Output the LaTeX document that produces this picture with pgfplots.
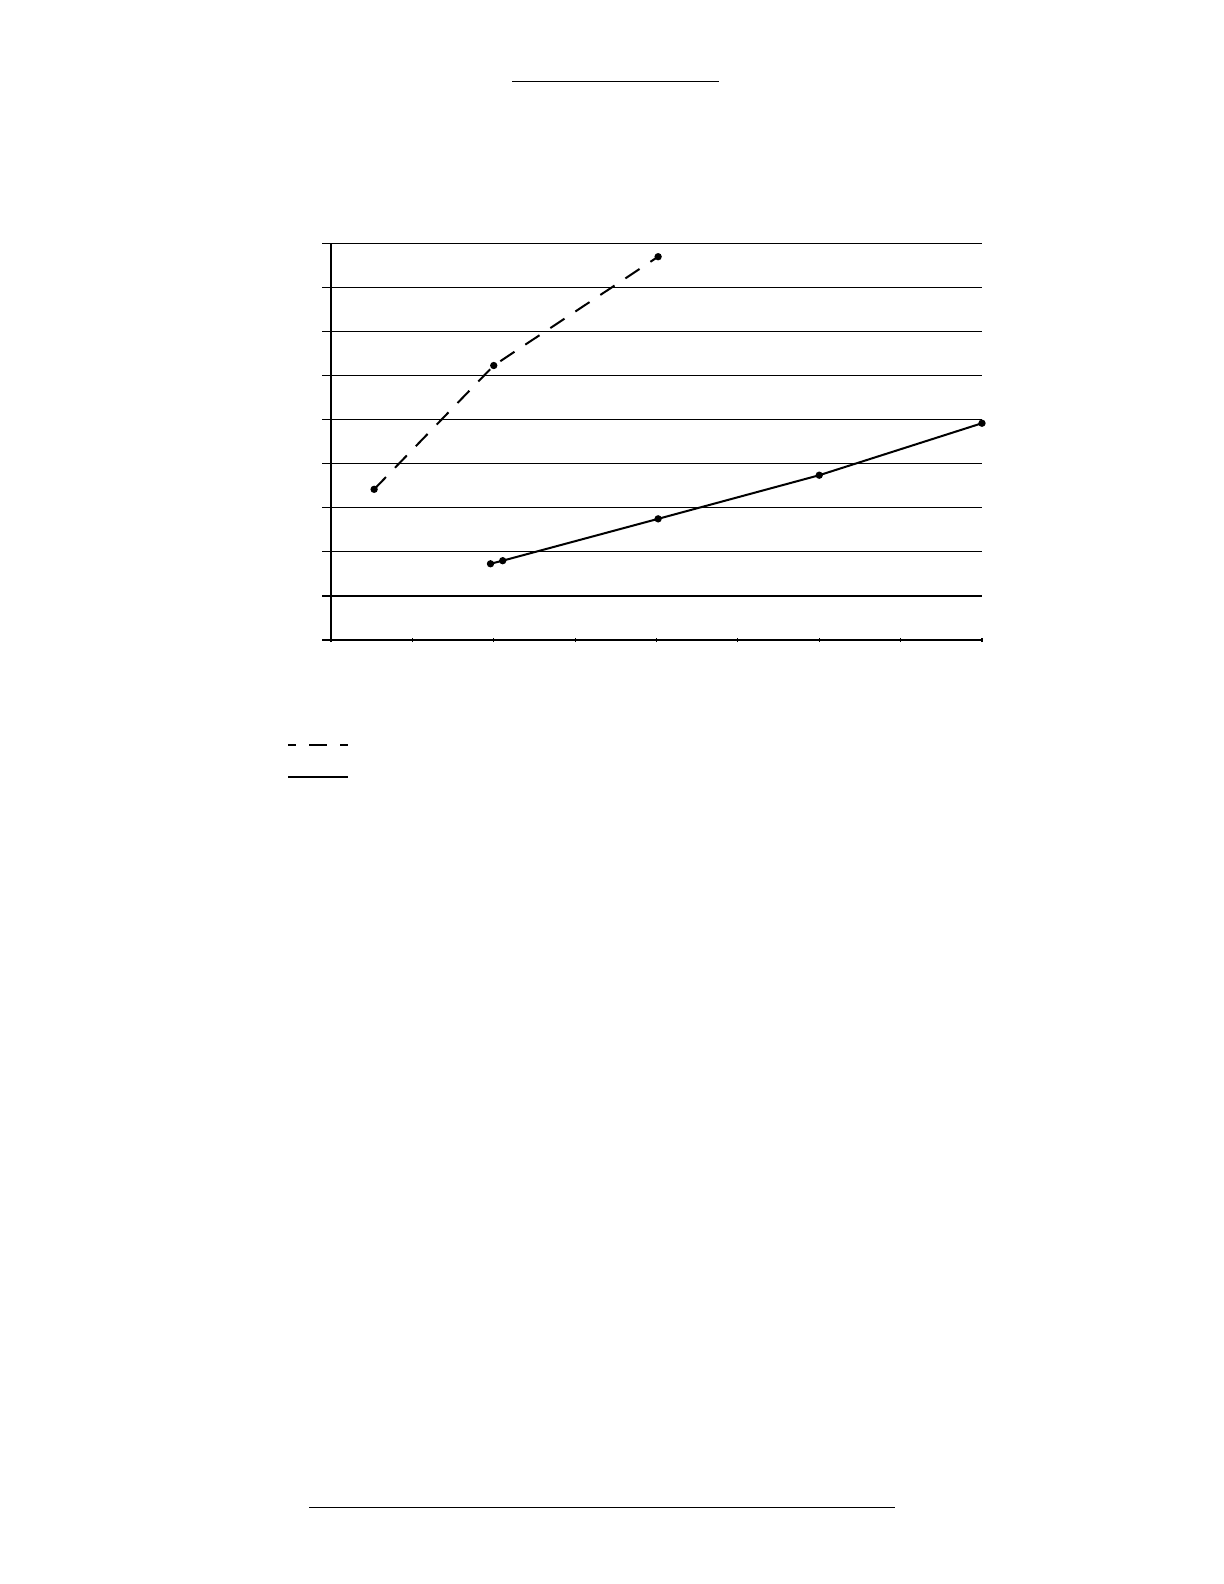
\documentclass[border=0pt]{standalone}
\usepackage{pgfplots}
\pgfplotsset{compat=1.18}

\begin{document}
\begin{tikzpicture}
% page frame, 612 x 792 bp (letter)
\fill[white] (0,0) rectangle (612bp,792bp);
\path[use as bounding box] (0,0) rectangle (612bp,792bp);

% rule under the (empty) title and rule at the foot of the page
\draw[line width=0.7bp] (256bp,751.3bp) -- (359.5bp,751.3bp);
\draw[line width=0.7bp] (154.5bp,38.3bp) -- (447.5bp,38.3bp);

\begin{axis}[
    at={(165.5bp,472bp)}, anchor=south west,
    scale only axis,
    width=325.5bp, height=198.25bp,
    xmin=0, xmax=8, ymin=0, ymax=9,
    xtick={0,1,...,8}, ytick={0,1,...,9},
    xticklabels={}, yticklabels={},
    axis lines*=left,
    axis line style={-, line width=1.1bp},
    tick align=center,
    major tick length=4.3bp,
    tick style={black, line width=0.6bp},
    xtick style={/pgfplots/major tick length=2.2bp},
    ytick style={xshift=-2.15bp},
    ymajorgrids,
    grid style={black, line width=0.6bp},
    clip=false,
]
\addplot[black, line width=1bp, dash pattern=on 8.5bp off 6.5bp,
    mark=*, mark size=1.3bp, mark options={solid}] coordinates {
    (0.53,3.42) (2.00,6.23) (4.02,8.70)
};
\addplot[black, line width=1bp, mark=*, mark size=1.3bp] coordinates {
    (1.96,1.73) (2.11,1.80) (4.02,2.75) (6.00,3.74) (8.00,4.92)
};
\end{axis}

% legend samples (the legend has no text)
\draw[line width=1bp, dash pattern=on 9bp off 6.5bp, dash phase=5bp]
    (144bp,419.6bp) -- (174bp,419.6bp);
\draw[line width=1bp] (144bp,403.5bp) -- (174bp,403.5bp);
\end{tikzpicture}
\end{document}
